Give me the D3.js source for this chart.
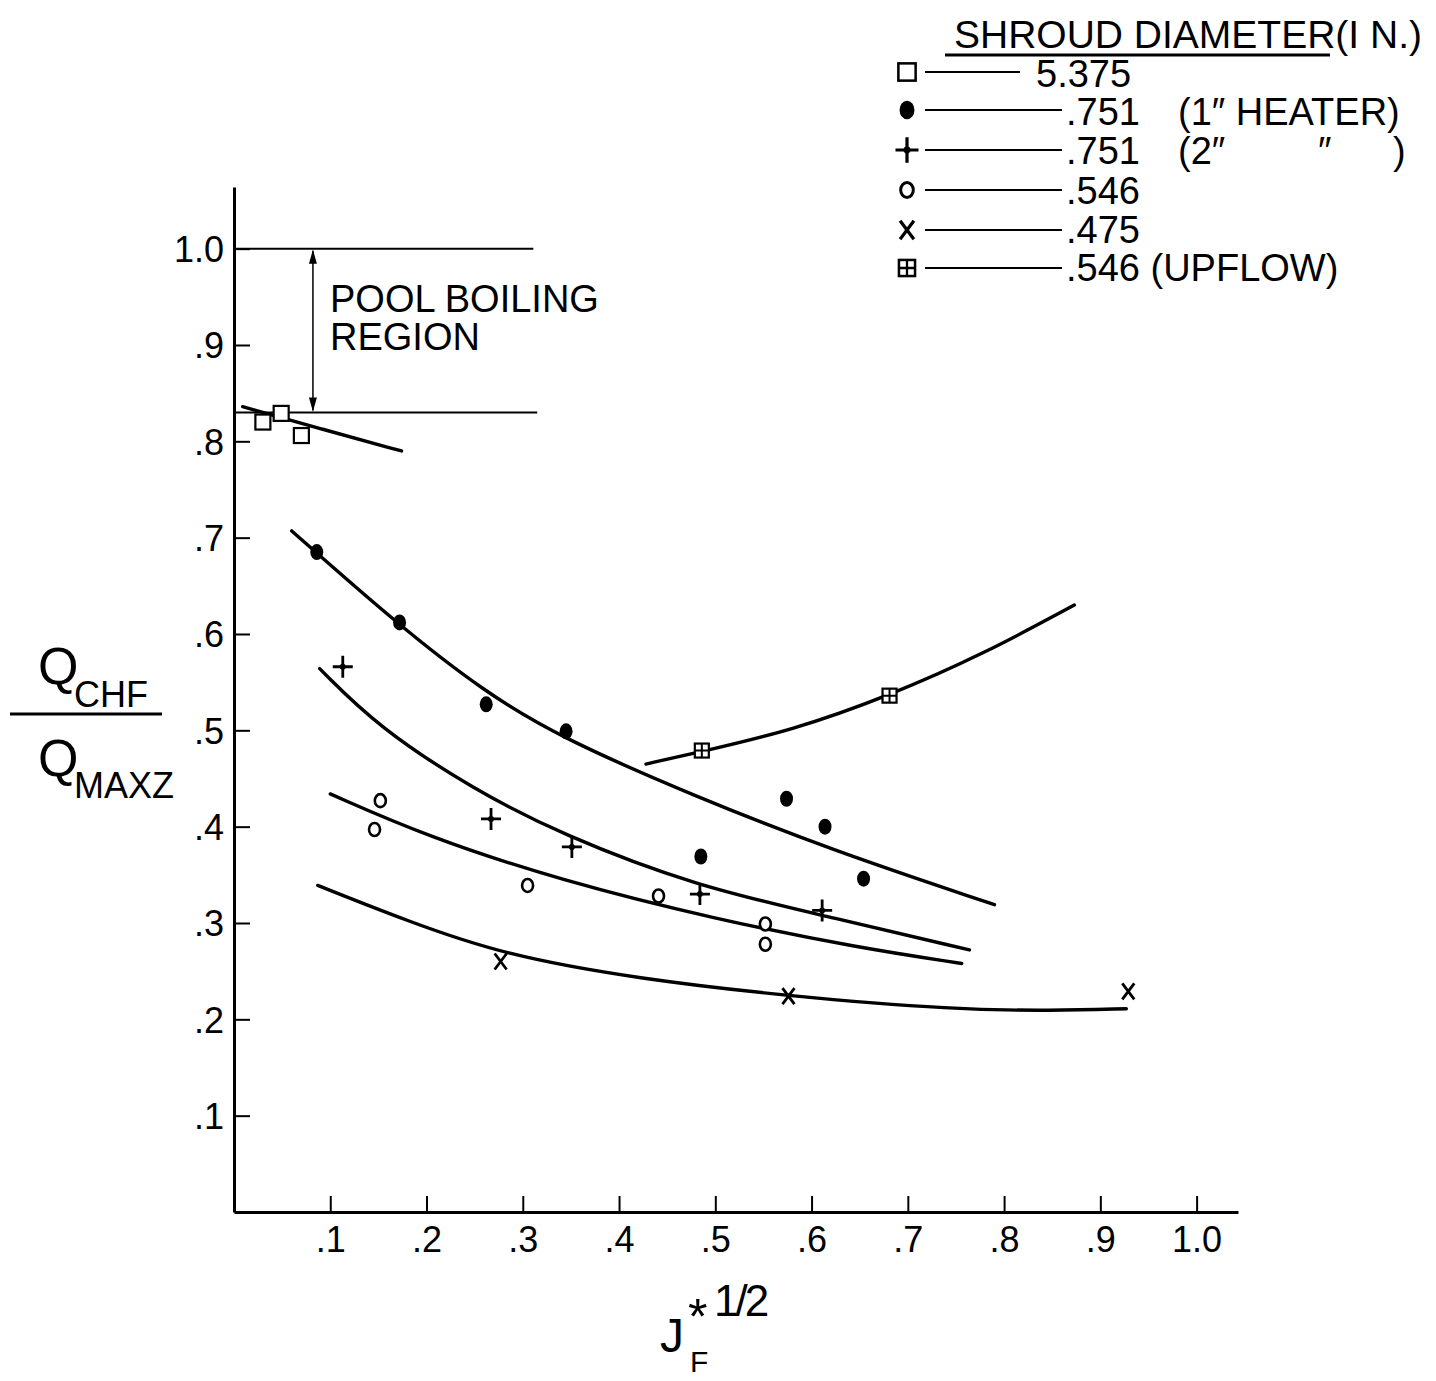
<!DOCTYPE html>
<html>
<head>
<meta charset="utf-8">
<script src="https://cdn.jsdelivr.net/npm/d3@7/dist/d3.min.js"></script>
<style>
  body { margin: 0; background: #fff; }
  svg { display: block; }
  text { font-family: "Liberation Sans", Arial, sans-serif; fill: #000; }
</style>
</head>
<body>
<div id="chart"></div>
<script>
// observed points [J_F*^1/2, Qchf/Qmaxz]
const pts5375 = [[0.030, 0.820], [0.049, 0.829], [0.070, 0.806]]
const pts751a = [[0.086, 0.685], [0.172, 0.612], [0.262, 0.527], [0.345, 0.499],
  [0.485, 0.369], [0.574, 0.429], [0.614, 0.400], [0.654, 0.346]]
const pts751b = [[0.113, 0.566], [0.267, 0.408], [0.351, 0.379], [0.484, 0.330], [0.611, 0.313]]
const pts546 = [[0.152, 0.427], [0.146, 0.397], [0.305, 0.339], [0.441, 0.328], [0.552, 0.299], [0.552, 0.278]]
const pts475 = [[0.277, 0.260], [0.576, 0.224], [0.929, 0.229]]
const ptsUp = [[0.486, 0.479], [0.681, 0.536]]

// hand drawn fit curves
const fit5375 = [[0.009, 0.836], [0.09, 0.813], [0.174, 0.790]]
const fit751a = [[0.06, 0.707], [0.17, 0.610], [0.26, 0.540], [0.34, 0.492],
  [0.48, 0.431], [0.62, 0.376], [0.79, 0.319]]
const fit751b = [[0.089, 0.564], [0.15, 0.503], [0.25, 0.438], [0.34, 0.392], [0.48, 0.338],
  [0.62, 0.306], [0.764, 0.272]]
const fit546 = [[0.10, 0.434], [0.2, 0.390], [0.34, 0.344], [0.5, 0.304],
  [0.65, 0.274], [0.756, 0.258]]
const fit475 = [[0.087, 0.339], [0.18, 0.302], [0.28, 0.267], [0.42, 0.242],
  [0.576, 0.224], [0.75, 0.210], [0.85, 0.209], [0.927, 0.211]]
const fitUp = [[0.428, 0.465], [0.486, 0.478], [0.58, 0.500], [0.681, 0.536], [0.78, 0.580], [0.873, 0.630]]

const xTicks = [0.1, 0.2, 0.3, 0.4, 0.5, 0.6, 0.7, 0.8, 0.9, 1.0]
const yTicks = [0.1, 0.2, 0.3, 0.4, 0.5, 0.6, 0.7, 0.8, 0.9, 1.0]
const tickLabel = v => v === 1 ? '1.0' : '.' + Math.round(v * 10)

const poolTop = 1.0, poolBottom = 0.83
const legendSymbols = ['square', 'dot', 'plus', 'ring', 'cross', 'boxplus']

const width = 1436, height = 1381

const svg = d3.select('#chart').append('svg')
  .attr('width', width)
  .attr('height', height)

const x = d3.scaleLinear().domain([0, 1.043]).range([234, 1238])
const y = d3.scaleLinear().domain([0, 1.064]).range([1212, 187])

// axes
const xAxis = svg.append('g')
  .attr('transform', `translate(0, ${y(0)})`)
  .call(d3.axisBottom(x).tickValues(xTicks).tickFormat(tickLabel)
    .tickSizeInner(-16).tickSizeOuter(0).tickPadding(14))
xAxis.select('.domain').attr('stroke-width', 3)
xAxis.selectAll('.tick line').attr('stroke-width', 2)
xAxis.selectAll('.tick text').style('font-size', '36px').attr('dy', '0.71em')

const yAxis = svg.append('g')
  .attr('transform', `translate(${x(0)}, 0)`)
  .call(d3.axisLeft(y).tickValues(yTicks).tickFormat(tickLabel)
    .tickSizeInner(-16).tickSizeOuter(0).tickPadding(10))
yAxis.select('.domain').attr('stroke-width', 3)
yAxis.selectAll('.tick line').attr('stroke-width', 2)
yAxis.selectAll('.tick text').style('font-size', '36px').attr('dy', '0.36em')

// pool boiling region
svg.append('line')
  .attr('x1', x(0)).attr('x2', x(0.311))
  .attr('y1', y(poolTop)).attr('y2', y(poolTop))
  .attr('stroke', '#000').attr('stroke-width', 2)
svg.append('line')
  .attr('x1', x(0)).attr('x2', x(0.315))
  .attr('y1', y(poolBottom)).attr('y2', y(poolBottom))
  .attr('stroke', '#000').attr('stroke-width', 2)

const ax = x(0.082)
svg.append('line')
  .attr('x1', ax).attr('x2', ax)
  .attr('y1', y(poolTop) + 2).attr('y2', y(poolBottom) - 2)
  .attr('stroke', '#000').attr('stroke-width', 1.5)
svg.append('path')
  .attr('d', `M${ax},${y(poolTop) + 1}l-4,14h8z M${ax},${y(poolBottom) - 1}l-4,-14h8z`)
  .attr('fill', '#000')

svg.append('text').attr('x', 330).attr('y', 312).style('font-size', '38px').text('POOL BOILING')
svg.append('text').attr('x', 330).attr('y', 350).style('font-size', '38px').text('REGION')

// fitted curves
const line = d3.line()
  .x(d => x(d[0]))
  .y(d => y(d[1]))
  .curve(d3.curveBasis)

const fits = [fit5375, fit751a, fit751b, fit546, fit475, fitUp]
svg.append('g')
  .selectAll('path')
  .data(fits)
  .enter()
  .append('path')
  .attr('d', line)
  .attr('fill', 'none')
  .attr('stroke', '#000')
  .attr('stroke-width', 3.4)
  .attr('stroke-linecap', 'round')

// marker drawing
const drawMarker = (g, kind) => {
  if (kind === 'square') {
    g.append('rect').attr('x', -7.5).attr('y', -7.5).attr('width', 15).attr('height', 15)
      .attr('fill', '#fff').attr('stroke', '#000').attr('stroke-width', 2.2)
  } else if (kind === 'dot') {
    g.append('ellipse').attr('rx', 6.5).attr('ry', 8).attr('fill', '#000')
  } else if (kind === 'plus') {
    g.append('path').attr('d', 'M-10,0H10M0,-11V11')
      .attr('stroke', '#000').attr('stroke-width', 2.8)
    g.append('circle').attr('r', 3).attr('fill', '#000')
  } else if (kind === 'ring') {
    g.append('ellipse').attr('rx', 5.5).attr('ry', 6.5)
      .attr('fill', '#fff').attr('stroke', '#000').attr('stroke-width', 2.6)
  } else if (kind === 'cross') {
    g.append('path').attr('d', 'M-6,-8L6,8M6,-8L-6,8')
      .attr('stroke', '#000').attr('stroke-width', 2.8)
  } else if (kind === 'boxplus') {
    g.append('rect').attr('x', -7).attr('y', -7).attr('width', 14).attr('height', 14)
      .attr('fill', '#fff').attr('stroke', '#000').attr('stroke-width', 2.2)
    g.append('path').attr('d', 'M-7,0H7M0,-7V7')
      .attr('stroke', '#000').attr('stroke-width', 2)
  }
}

const series = [
  { pts: pts5375, kind: 'square' },
  { pts: pts751a, kind: 'dot' },
  { pts: pts751b, kind: 'plus' },
  { pts: pts546, kind: 'ring' },
  { pts: pts475, kind: 'cross' },
  { pts: ptsUp, kind: 'boxplus' }
]

series.forEach(s => {
  svg.append('g')
    .selectAll('g')
    .data(s.pts)
    .enter()
    .append('g')
    .attr('transform', d => `translate(${x(d[0])}, ${y(d[1])})`)
    .each(function () { drawMarker(d3.select(this), s.kind) })
})

// legend
const legend = svg.append('g')
svg.append('text').attr('x', 954).attr('y', 48).style('font-size', '39px')
  .text('SHROUD DIAMETER(I N.)')
svg.append('line').attr('x1', 945).attr('x2', 1330).attr('y1', 55).attr('y2', 55)
  .attr('stroke', '#000').attr('stroke-width', 3)

const rowY = [72, 110, 150, 190, 230, 268]
legendSymbols.forEach((kind, i) => {
  const g = legend.append('g').attr('transform', `translate(907, ${rowY[i]}) scale(1.15)`)
  drawMarker(g, kind)
  legend.append('line')
    .attr('x1', 925).attr('x2', i === 0 ? 1020 : 1062)
    .attr('y1', rowY[i]).attr('y2', rowY[i])
    .attr('stroke', '#000').attr('stroke-width', 2)
})

const lt = (tx, ty, s) => legend.append('text').attr('x', tx).attr('y', ty)
  .style('font-size', '38px').style('white-space', 'pre').text(s)
lt(1036, 87, '5.375')
lt(1066, 125, '.751')
lt(1178, 125, '(1\u2033 HEATER)')
lt(1066, 164, '.751')
lt(1178, 164, '(2\u2033')
lt(1318, 164, '\u2033')
lt(1393, 164, ')')
lt(1066, 204, '.546')
lt(1066, 243, '.475')
lt(1066, 281, '.546 (UPFLOW)')

// y axis title
svg.append('line').attr('x1', 10).attr('x2', 162).attr('y1', 714).attr('y2', 714)
  .attr('stroke', '#000').attr('stroke-width', 3)
svg.append('text').attr('x', 38).attr('y', 684).style('font-size', '52px').text('Q')
svg.append('text').attr('x', 74).attr('y', 707).style('font-size', '36px').text('CHF')
svg.append('text').attr('x', 38).attr('y', 776).style('font-size', '52px').text('Q')
svg.append('text').attr('x', 74).attr('y', 798).style('font-size', '36px').text('MAXZ')

// x axis title
svg.append('text').attr('x', 660).attr('y', 1352).style('font-size', '48px').text('J')
svg.append('text').attr('x', 690).attr('y', 1372).style('font-size', '30px').text('F')
svg.append('text').attr('x', 688).attr('y', 1334).style('font-size', '50px').text('*')
svg.append('text').attr('x', 714).attr('y', 1316).style('font-size', '44px')
  .style('letter-spacing', '-3px').text('1/2')
</script>
</body>
</html>
